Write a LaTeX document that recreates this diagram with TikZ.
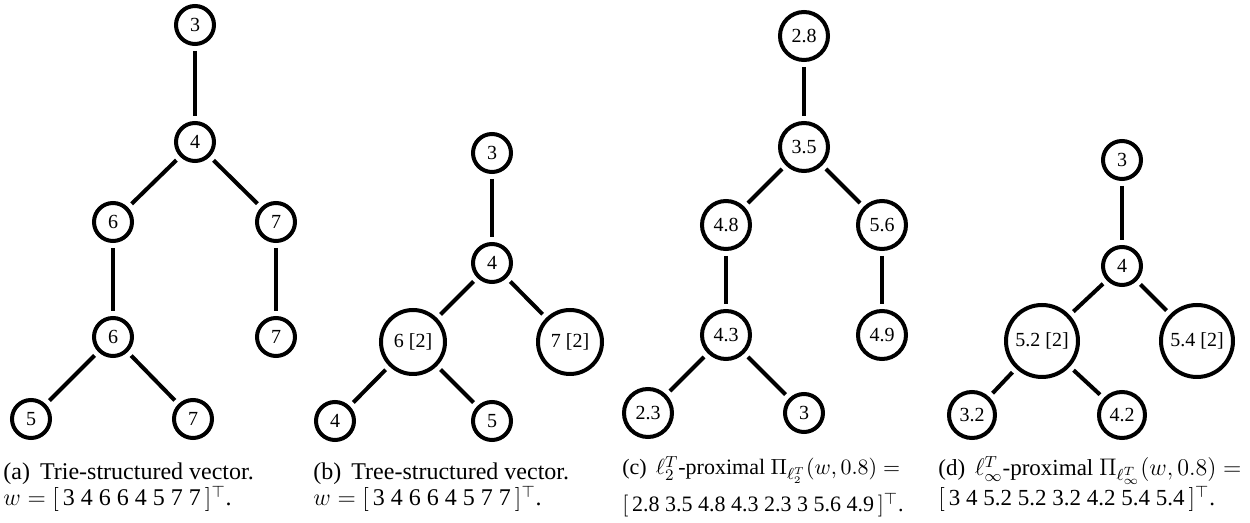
\documentclass[tikz,border=0pt]{standalone}
\usepackage{fontspec}
\setmainfont{Liberation Serif}

\tikzset{
  vertex/.style={circle, draw, line width=2pt, inner sep=0pt, minimum size=19pt},
  vertexm/.style={vertex, minimum size=24pt},
  vertexl/.style={vertex, minimum size=32pt},
  link/.style={line width=2pt, shorten <=2.5pt, shorten >=2.5pt},
  capt/.style={anchor=base west, inner sep=0pt, font=\fontsize{12}{14}\selectfont}
}

\begin{document}
\begin{tikzpicture}[x=0.5pt, y=-0.5pt]
        \useasboundingbox (0,0) rectangle (1250,523);

        % Trie
        \node[vertex] (a3) at (195,25) {3};
        \node[vertex] (a4) at (195,142) {4};
        \node[vertex] (a6) at (113,222) {6};
        \node[vertex] (a7) at (276,222) {7};
        \node[vertex] (a6b) at (113,337) {6};
        \node[vertex] (a7b) at (276,337) {7};
        \node[vertex] (a5) at (31,419) {5};
        \node[vertex] (a7c) at (193,419) {7};
        \draw[link] (a3) -- (a4);
        \draw[link] (a4) -- (a6);
        \draw[link] (a4) -- (a7);
        \draw[link] (a6) -- (a6b);
        \draw[link] (a7) -- (a7b);
        \draw[link] (a6b) -- (a5);
        \draw[link] (a6b) -- (a7c);

        % Tree
        \node[vertex] (b3) at (492,153) {3};
        \node[vertex] (b4) at (492,263) {4};
        \node[vertexl] (b6) at (413,342) {6 [2]};
        \node[vertexl] (b7) at (570,342) {7 [2]};
        \node[vertex] (b4b) at (335,421) {4};
        \node[vertex] (b5) at (492,421) {5};
        \draw[link] (b3) -- (b4);
        \draw[link] (b4) -- (b6);
        \draw[link] (b4) -- (b7);
        \draw[link] (b6) -- (b4b);
        \draw[link] (b6) -- (b5);

        % l2 proximal
        \node[vertexm] (c28) at (804,36) {2.8};
        \node[vertexm] (c35) at (804,147) {3.5};
        \node[vertexm] (c48) at (726,225) {4.8};
        \node[vertexm] (c56) at (882,225) {5.6};
        \node[vertexm] (c43) at (726,335) {4.3};
        \node[vertexm] (c49) at (882,335) {4.9};
        \node[vertexm] (c23) at (648,413) {2.3};
        \node[vertex] (c3) at (804,413) {3};
        \draw[link] (c28) -- (c35);
        \draw[link] (c35) -- (c48);
        \draw[link] (c35) -- (c56);
        \draw[link] (c48) -- (c43);
        \draw[link] (c56) -- (c49);
        \draw[link] (c43) -- (c23);
        \draw[link] (c43) -- (c3);

        % linf proximal
        \node[vertex] (d3) at (1122,160) {3};
        \node[vertex] (d4) at (1122,266) {4};
        \node[vertexl, minimum size=36pt] (d52) at (1042,341) {5.2 [2]};
        \node[vertexl, minimum size=36pt] (d54) at (1197,341) {5.4 [2]};
        \node[vertexm, minimum size=23pt] (d32) at (972,415) {3.2};
        \node[vertexm, minimum size=23pt] (d42) at (1122,415) {4.2};
        \draw[link] (d3) -- (d4);
        \draw[link] (d4) -- (d52);
        \draw[link] (d4) -- (d54);
        \draw[link] (d52) -- (d32);
        \draw[link] (d52) -- (d42);

        % Captions
        \node[capt] (capa) at (3,480) {(a)~\,Trie-structured vector.};
        \node[capt] (capa2) at (3,506) {$w=[\,$3 4 6 6 4 5 7 7$\,]^{\top}$.};
        \node[capt] (capb) at (313,480) {(b)~\,Tree-structured vector.};
        \node[capt] (capb2) at (313,506) {$w=[\,$3 4 6 6 4 5 7 7$\,]^{\top}$.};
        \node[capt, font=\fontsize{11}{13}\selectfont] (capc) at (622,475)
          {(c)~\,$\ell_2^T$-proximal $\Pi_{\ell_2^T}(w,0.8)=$};
        \node[capt, font=\fontsize{11}{13}\selectfont] (capc2) at (622,512)
          {$[\,$2.8 3.5 4.8 4.3 2.3 3 5.6 4.9$\,]^{\top}$.};
        \node[capt, font=\fontsize{11.5}{13}\selectfont] (capd) at (938,476)
          {(d)~\,$\ell_\infty^T$-proximal $\Pi_{\ell_\infty^T}(w,0.8)=$};
        \node[capt, font=\fontsize{11.5}{13}\selectfont] (capd2) at (938,506)
          {$[\,$3 4 5.2 5.2 3.2 4.2 5.4 5.4$\,]^{\top}$.};
    \end{tikzpicture}
\end{document}
